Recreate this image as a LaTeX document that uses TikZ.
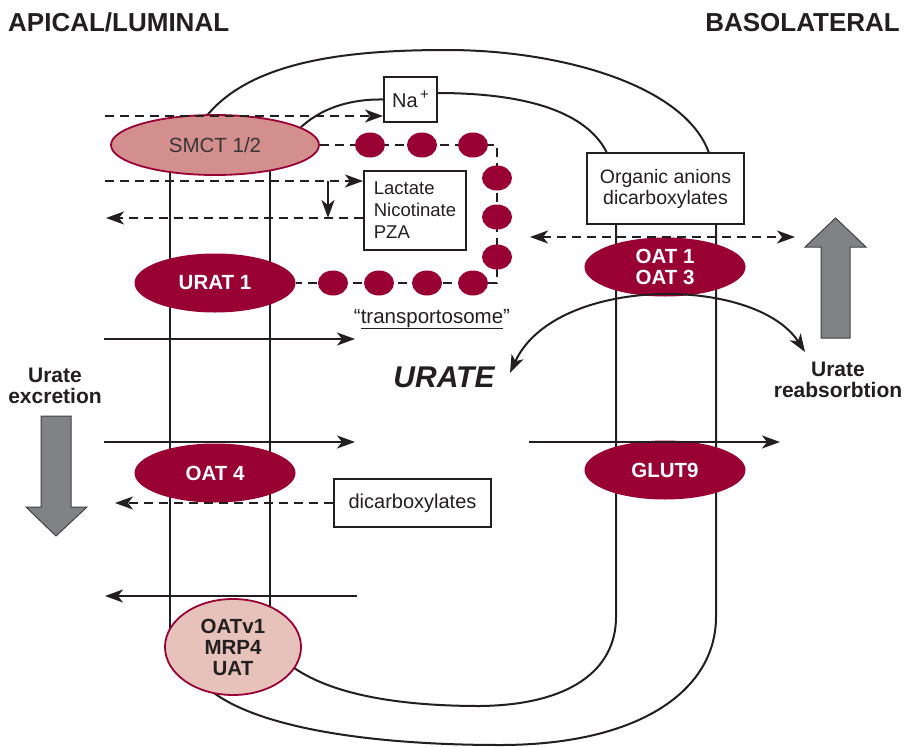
\documentclass[tikz,border=0pt]{standalone}
\usepackage{fontspec}
\setmainfont{Liberation Sans}
\usetikzlibrary{arrows.meta,shapes.geometric}
\definecolor{dred}{HTML}{990033}
\definecolor{smctc}{HTML}{D38F8E}
\definecolor{oatvc}{HTML}{E7C2BA}
\definecolor{garrow}{HTML}{808285}
\definecolor{ink}{HTML}{231F20}
\begin{document}
\begin{tikzpicture}[x=1pt,y=-1pt,
  memb/.style={line width=2pt, draw=ink},
  arr/.style={-{Stealth[length=18pt,width=13pt,inset=5pt]}, line width=2pt, draw=ink},
  darr/.style={arr, dash pattern=on 9pt off 6pt},
  ddarr/.style={{Stealth[length=18pt,width=13pt,inset=5pt]}-{Stealth[length=18pt,width=13pt,inset=5pt]}, line width=2pt, draw=ink, dash pattern=on 9pt off 6pt},
  dline/.style={line width=2pt, draw=ink, dash pattern=on 9pt off 6pt},
  curvarr/.style={{Stealth[length=18pt,width=13pt,inset=5pt]}-{Stealth[length=18pt,width=13pt,inset=5pt]}, line width=2pt, draw=ink},
  prot/.style={ellipse, inner sep=0pt, fill=dred, text=white, align=center,
    font=\fontsize{20.5}{20.5}\selectfont\bfseries, minimum width=161pt, minimum height=59pt},
  dotn/.style={ellipse, fill=dred, minimum width=30pt, minimum height=25pt, inner sep=0pt},
  boxn/.style={draw=ink, fill=white, line width=2pt, inner sep=0pt, align=center, text=ink,
    font=\fontsize{20}{21}\selectfont},
  lbl/.style={text=ink, align=center, inner sep=0pt, font=\fontsize{21}{20.5}\selectfont\bfseries},
  hdr/.style={text=ink, inner sep=0pt, font=\fontsize{26}{26}\selectfont\bfseries},
  bigarr/.style={fill=garrow, draw=ink!85, line width=1pt}
]
\useasboundingbox (0,0) rectangle (905,747);

% headers
\node[hdr, anchor=base west] (apical) at (8,31) {APICAL/LUMINAL};
\node[hdr, anchor=base east] (baso) at (900,31) {BASOLATERAL};

% membranes
\draw[memb] (205,118) .. controls (250,60) and (350,50) .. (447,50)
  .. controls (560,50) and (685,85) .. (709,153);
\draw[memb] (170,150) -- (170,640);
\draw[memb] (270,150) -- (270,640);
\draw[memb] (616,224) -- (616,617) .. controls (616,670) and (570,705) .. (480,706)
  .. controls (400,706) and (330,695) .. (290,665);
\draw[memb] (716,224) -- (716,617) .. controls (716,690) and (640,745) .. (500,745)
  .. controls (380,745) and (260,730) .. (210,690);

% boxes
\node[boxn, minimum width=53pt, minimum height=45pt] (na) at (410.5,99.5)
  {Na\raisebox{0.42em}{\fontsize{15}{15}\selectfont\,+}};
\draw[memb] (298,130) .. controls (320,108) and (350,99) .. (na.west);
\coordinate (naR) at (437,93);
\draw[memb] (naR) .. controls (540,93) and (590,118) .. (607,153);

\node[boxn, minimum width=102pt, minimum height=79pt, align=left, font=\fontsize{18.5}{22}\selectfont] (lac) at (415,210.5)
  {Lactate\\Nicotinate\\PZA};
\node[boxn, minimum width=157pt, minimum height=71pt, font=\fontsize{19.5}{21}\selectfont] (org) at (665.5,188.5)
  {Organic anions\\dicarboxylates};
\node[boxn, minimum width=157pt, minimum height=48pt] (dic) at (412.5,503) {dicarboxylates};

% transporters
\node[ellipse, inner sep=0pt, fill=smctc, draw=dred, line width=1.8pt, minimum width=208pt, minimum height=60pt,
  text=ink!90, font=\fontsize{20.5}{20.5}\selectfont] (smct) at (215,145) {SMCT 1/2};
\node[prot] (urat) at (215,283) {URAT 1};
\node[prot] (oat13) at (665,267) {OAT 1\\OAT 3};
\node[prot] (oat4) at (215,473) {OAT 4};
\node[prot] (glut) at (665,470) {GLUT9};
\node[ellipse, inner sep=0pt, fill=oatvc, draw=dred, line width=1.8pt, minimum width=136pt, minimum height=96pt,
  text=ink, align=center, font=\fontsize{20.5}{21}\selectfont\bfseries] (oatv) at (233,647) {OATv1\\MRP4\\UAT};

% transportosome
\coordinate (tc1) at (497,145);
\coordinate (tc2) at (497,283);
\draw[dline] (smct.east) -- (tc1) -- (tc2) -- (urat.east);
\foreach \x/\n in {370/t1,422/t2,473/t3} \node[dotn] (\n) at (\x,145) {};
\foreach \y/\n in {178/r1,217/r2,257/r3} \node[dotn] (\n) at (497,\y) {};
\foreach \x/\n in {333/b1,379/b2,427/b3,473/b4} \node[dotn] (\n) at (\x,283) {};
\node[text=ink, inner sep=0pt, anchor=base, font=\fontsize{20.5}{20.5}\selectfont] (tlabel) at (432,323)
  {\textquotedblleft\underline{transportosome}\textquotedblright};

% dashed arrows (apical)
\coordinate (s1) at (105,116);
\draw[darr] (s1) -- (s1 -| na.west);
\coordinate (s2) at (105,181);
\draw[darr] (s2) -- (s2 -| lac.west);
\coordinate (s3) at (106,218);
\draw[darr] (s3 -| lac.west) -- (s3);
\coordinate (v1) at (328,181);
\coordinate (v2) at (328,218);
\draw[arr] (v1) -- (v2);
\coordinate (s4) at (115,503);
\draw[darr] (dic.west) -- (s4);

% basolateral dashed
\coordinate (o1) at (530,237);
\coordinate (o2) at (795,237);
\draw[ddarr] (o1) -- (o2);

% solid urate arrows
\coordinate (a1s) at (104,339); \coordinate (a1e) at (355,339);
\draw[arr] (a1s) -- (a1e);
\coordinate (a2s) at (104,442); \coordinate (a2e) at (355,442);
\draw[arr] (a2s) -- (a2e);
\coordinate (a3s) at (357,596); \coordinate (a3e) at (105,596);
\draw[arr] (a3s) -- (a3e);
\coordinate (a4s) at (529,442); \coordinate (a4e) at (780,442);
\draw[arr] (a4s) -- (a4e);
\coordinate (cL) at (510,373); \coordinate (cR) at (805,352);
\draw[curvarr] (cL) .. controls (555,275) and (755,275) .. (cR);

% labels
\node[text=ink, inner sep=0pt, font=\fontsize{30}{30}\selectfont\bfseries\itshape] (urate) at (444,377) {URATE};
\node[lbl] (exc) at (55,386) {Urate\\excretion};
\node[lbl] (reab) at (838,380) {Urate\\reabsorbtion};

% big arrows
\draw[bigarr] (821,338) -- (821,247) -- (805,247) -- (835.5,218) -- (866,247) -- (850,247) -- (850,338) -- cycle;
\draw[bigarr] (41,416) -- (41,507) -- (26,507) -- (56,536) -- (87,507) -- (71,507) -- (71,416) -- cycle;
\end{tikzpicture}
\end{document}
